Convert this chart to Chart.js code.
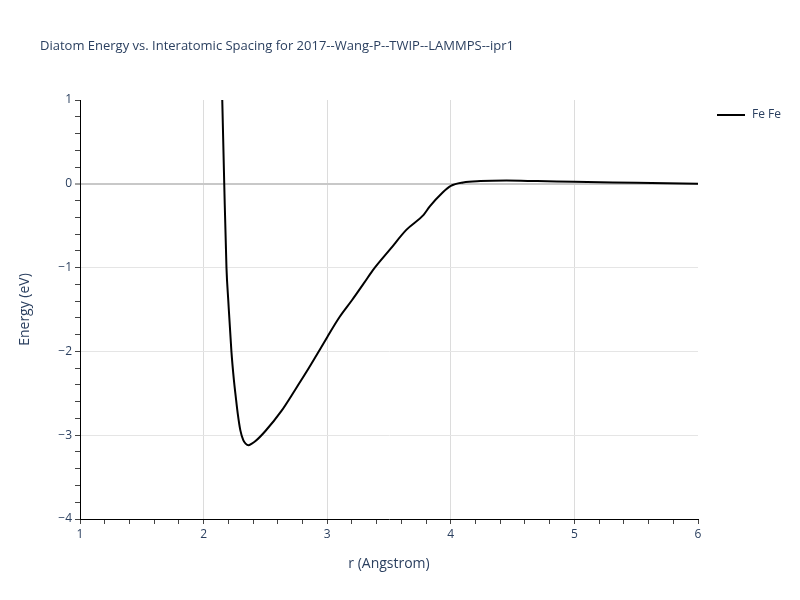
<!DOCTYPE html>
<html>
<head>
<meta charset="utf-8">
<script src="https://cdn.jsdelivr.net/npm/chart.js@4/dist/chart.umd.min.js"></script>
<style>
  html, body { margin: 0; padding: 0; background: #fff; }
  #wrap { width: 800px; height: 600px; }
</style>
</head>
<body>
<div id="wrap"><canvas id="grafico"></canvas></div>
<script>
// valores
const titulo = 'Diatom Energy vs. Interatomic Spacing for 2017--Wang-P--TWIP--LAMMPS--ipr1';
const serieNome = 'Fe Fe';
const distancias = [2.14, 2.151, 2.167, 2.185, 2.2, 2.225, 2.245, 2.26, 2.276, 2.297, 2.321, 2.34, 2.362, 2.39, 2.42, 2.5, 2.63, 2.74, 2.83, 2.94, 3.0, 3.1, 3.2, 3.3, 3.37, 3.51, 3.64, 3.78, 3.83, 3.93, 4.0, 4.1, 4.24, 4.45, 4.7, 5.0, 5.5, 6.0];
const energias = [1.7, 1.0, 0.0, -1.0, -1.4, -2.0, -2.34, -2.54, -2.74, -2.94, -3.06, -3.10, -3.12, -3.10, -3.07, -2.95, -2.71, -2.46, -2.25, -1.98, -1.83, -1.59, -1.39, -1.18, -1.03, -0.78, -0.55, -0.37, -0.27, -0.11, -0.025, 0.016, 0.032, 0.038, 0.032, 0.024, 0.012, 0.0];
const xMin = 1, xMax = 6;
const yMin = -4, yMax = 1;

const corTexto = '#2a3f5f';
const fonte = '"Open Sans", "Liberation Sans", sans-serif';

function inteiro(v) {
    return Math.abs(v - Math.round(v)) < 1e-6;
}

// titulo e legenda desenhados como no plotly
const extras = {
    id: 'extras',
    afterDraw(chart) {
        const ctx = chart.ctx;
        ctx.save();
        ctx.fillStyle = corTexto;
        ctx.font = '13px ' + fonte;
        ctx.textBaseline = 'middle';
        ctx.textAlign = 'left';
        ctx.fillText(titulo, 40, 46);

        ctx.strokeStyle = '#000';
        ctx.lineWidth = 2;
        ctx.beginPath();
        ctx.moveTo(717, 115);
        ctx.lineTo(745, 115);
        ctx.stroke();
        ctx.font = '12px ' + fonte;
        ctx.fillText(serieNome, 752, 115);
        ctx.restore();
    }
};

const ctx = document.getElementById('grafico').getContext('2d');
new Chart(ctx, {
    type: 'line',
    data: {
        datasets: [{
            label: serieNome,
            data: distancias.map((r, i) => ({ x: r, y: energias[i] })),
            borderColor: '#000',
            borderWidth: 2,
            pointRadius: 0,
            fill: false,
            cubicInterpolationMode: 'monotone'
        }]
    },
    options: {
        responsive: true,
        maintainAspectRatio: false,
        animation: false,
        layout: { padding: { top: 100, right: 102, left: 0, bottom: 0 } },
        plugins: {
            legend: { display: false },
            title: { display: false },
            tooltip: { enabled: false }
        },
        scales: {
            x: {
                type: 'linear',
                min: xMin,
                max: xMax,
                afterFit: s => { s.height = 81; },
                border: { display: true, color: '#000', width: 1 },
                grid: {
                    color: c => (inteiro(c.tick.value) && c.tick.value > xMin && c.tick.value < xMax) ? '#dcdcdc' : 'rgba(0,0,0,0)',
                    lineWidth: 1,
                    tickColor: '#444',
                    tickWidth: 1,
                    tickLength: 5
                },
                ticks: {
                    stepSize: 0.2,
                    autoSkip: false,
                    maxRotation: 0,
                    padding: 3,
                    color: corTexto,
                    font: { family: fonte, size: 12 },
                    callback: v => inteiro(v) ? String(Math.round(v)) : ''
                },
                title: {
                    display: true,
                    text: 'r (Angstrom)',
                    color: corTexto,
                    font: { family: fonte, size: 14 },
                    padding: { top: 0, bottom: 28 }
                }
            },
            y: {
                min: yMin,
                max: yMax,
                afterFit: s => { s.width = 80; },
                border: { display: true, color: '#000', width: 1 },
                grid: {
                    color: c => {
                        const v = c.tick.value;
                        if (!inteiro(v) || v <= yMin || v >= yMax) return 'rgba(0,0,0,0)';
                        return Math.round(v) === 0 ? '#c8c8c8' : '#e5e5e5';
                    },
                    lineWidth: c => (inteiro(c.tick.value) && Math.round(c.tick.value) === 0) ? 2 : 1,
                    tickColor: '#444',
                    tickWidth: 1,
                    tickLength: 5
                },
                ticks: {
                    stepSize: 0.2,
                    autoSkip: false,
                    padding: 3,
                    color: corTexto,
                    font: { family: fonte, size: 12 },
                    callback: v => inteiro(v) ? String(Math.round(v)).replace('-', '\u2212') : ''
                },
                title: {
                    display: true,
                    text: 'Energy (eV)',
                    color: corTexto,
                    font: { family: fonte, size: 14 },
                    padding: { top: 17, bottom: 0 }
                }
            }
        }
    },
    plugins: [extras]
});
</script>
</body>
</html>
